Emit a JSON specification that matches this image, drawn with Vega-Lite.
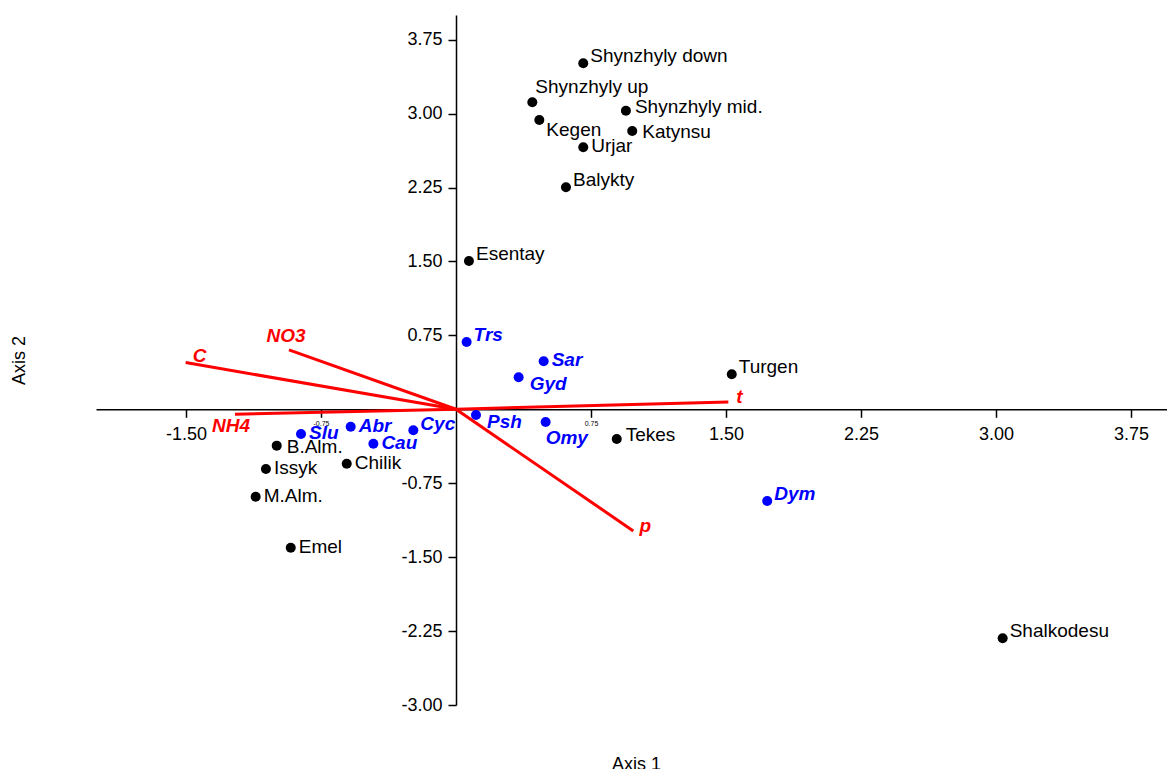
{
  "$schema": "https://vega.github.io/schema/vega-lite/v6.json",
  "width": 1071,
  "height": 690,
  "autosize": {"type": "none"},
  "padding": {"left": 96, "top": 15, "right": 0, "bottom": 64},
  "background": "white",
  "config": {
    "view": {"stroke": null},
    "font": "Liberation Sans",
    "axis": {
      "grid": false,
      "domainColor": "black",
      "domainWidth": 1.5,
      "tickColor": "black",
      "tickWidth": 1.5,
      "tickSize": 8,
      "labelFont": "Liberation Sans",
      "labelFontSize": 18,
      "labelColor": "black",
      "titleFont": "Liberation Sans",
      "titleFontSize": 18,
      "titleFontWeight": "normal",
      "titleColor": "black"
    }
  },
  "datasets": {
    "sites": [
      {"name": "Shynzhyly down", "x": 0.707, "y": 3.510},
      {"name": "Shynzhyly up", "x": 0.424, "y": 3.115},
      {"name": "Shynzhyly mid.", "x": 0.944, "y": 3.029},
      {"name": "Kegen", "x": 0.463, "y": 2.935},
      {"name": "Katynsu", "x": 0.979, "y": 2.823},
      {"name": "Urjar", "x": 0.707, "y": 2.658},
      {"name": "Balykty", "x": 0.611, "y": 2.252},
      {"name": "Esentay", "x": 0.072, "y": 1.504},
      {"name": "Turgen", "x": 1.532, "y": 0.355},
      {"name": "Tekes", "x": 0.893, "y": -0.301},
      {"name": "Shalkodesu", "x": 3.037, "y": -2.323},
      {"name": "B.Alm.", "x": -0.996, "y": -0.369},
      {"name": "Issyk", "x": -1.056, "y": -0.606},
      {"name": "Chilik", "x": -0.607, "y": -0.552},
      {"name": "M.Alm.", "x": -1.113, "y": -0.887},
      {"name": "Emel", "x": -0.918, "y": -1.404}
    ],
    "species": [
      {"name": "Trs", "x": 0.059, "y": 0.683},
      {"name": "Sar", "x": 0.487, "y": 0.487},
      {"name": "Gyd", "x": 0.348, "y": 0.325},
      {"name": "Psh", "x": 0.111, "y": -0.058},
      {"name": "Omy", "x": 0.498, "y": -0.129},
      {"name": "Slu", "x": -0.861, "y": -0.251},
      {"name": "Abr", "x": -0.585, "y": -0.177},
      {"name": "Cyc", "x": -0.237, "y": -0.213},
      {"name": "Cau", "x": -0.459, "y": -0.349},
      {"name": "Dym", "x": 1.729, "y": -0.930}
    ],
    "vectors": [
      {"name": "C", "x": -1.502, "y": 0.474},
      {"name": "NO3", "x": -0.928, "y": 0.603},
      {"name": "NH4", "x": -1.228, "y": -0.050},
      {"name": "t", "x": 1.513, "y": 0.075},
      {"name": "p", "x": 0.985, "y": -1.234}
    ]
  },
  "encoding": {
    "x": {
      "field": "x",
      "type": "quantitative",
      "scale": {"domain": [-2, 3.95], "nice": false, "zero": false},
      "axis": {
        "title": "Axis 1",
        "orient": "bottom",
        "offset": -295.71,
        "values": [-1.5, -0.75, 0.75, 1.5, 2.25, 3, 3.75],
        "format": ".2f",
        "labelExpr": "replace(datum.label, '\u2212', '-')",
        "labelFontSize": {"condition": {"test": "abs(datum.value) == 0.75", "value": 7}, "value": 18},
        "labelPadding": {"condition": {"test": "abs(datum.value) == 0.75", "value": 2}, "value": 8},
        "labelOverlap": false,
        "labelFlush": false,
        "titleX": 540,
        "titleY": 360,
        "titleBaseline": "alphabetic"
      }
    },
    "y": {
      "field": "y",
      "type": "quantitative",
      "scale": {"domain": [-3, 4], "nice": false, "zero": false},
      "axis": {
        "title": "Axis 2",
        "orient": "left",
        "offset": -360,
        "values": [-3, -2.25, -1.5, -0.75, 0.75, 1.5, 2.25, 3, 3.75],
        "format": ".2f",
        "labelExpr": "replace(datum.label, '\u2212', '-')",
        "labelPadding": 6,
        "labelOverlap": false,
        "labelFlush": false,
        "titleX": -437,
        "titleY": 345,
        "titleAngle": 270,
        "titleAlign": "center",
        "titleBaseline": "middle"
      }
    }
  },
  "layer": [
    {
      "data": {"name": "vectors"},
      "mark": {"type": "rule", "color": "#ff0000", "strokeWidth": 3},
      "encoding": {
        "x": {"datum": 0, "type": "quantitative"},
        "y": {"datum": 0, "type": "quantitative"},
        "x2": {"field": "x"},
        "y2": {"field": "y"}
      }
    },
    {
      "data": {"name": "sites"},
      "mark": {"type": "point", "filled": true, "color": "black", "opacity": 1, "size": 100}
    },
    {
      "data": {"name": "species"},
      "mark": {"type": "point", "filled": true, "color": "#0000ff", "opacity": 1, "size": 100}
    },
    {
      "data": {"name": "vectors"},
      "transform": [{"filter": {"field": "name", "equal": "C"}}],
      "mark": {"type": "text", "align": "center", "baseline": "middle", "dx": 14, "dy": -7, "fontSize": 19, "fontWeight": "bold", "fontStyle": "italic", "color": "#ff0000"},
      "encoding": {"text": {"field": "name"}}
    },
    {
      "data": {"name": "vectors"},
      "transform": [{"filter": {"field": "name", "equal": "NO3"}}],
      "mark": {"type": "text", "align": "center", "baseline": "middle", "dx": -3, "dy": -14, "fontSize": 19, "fontWeight": "bold", "fontStyle": "italic", "color": "#ff0000"},
      "encoding": {"text": {"field": "name"}}
    },
    {
      "data": {"name": "vectors"},
      "transform": [{"filter": {"field": "name", "equal": "NH4"}}],
      "mark": {"type": "text", "align": "center", "baseline": "middle", "dx": -4, "dy": 12, "fontSize": 19, "fontWeight": "bold", "fontStyle": "italic", "color": "#ff0000"},
      "encoding": {"text": {"field": "name"}}
    },
    {
      "data": {"name": "vectors"},
      "transform": [{"filter": {"field": "name", "equal": "t"}}],
      "mark": {"type": "text", "align": "center", "baseline": "middle", "dx": 11, "dy": -5, "fontSize": 19, "fontWeight": "bold", "fontStyle": "italic", "color": "#ff0000"},
      "encoding": {"text": {"field": "name"}}
    },
    {
      "data": {"name": "vectors"},
      "transform": [{"filter": {"field": "name", "equal": "p"}}],
      "mark": {"type": "text", "align": "center", "baseline": "middle", "dx": 12, "dy": -5, "fontSize": 19, "fontWeight": "bold", "fontStyle": "italic", "color": "#ff0000"},
      "encoding": {"text": {"field": "name"}}
    },
    {
      "data": {"name": "sites"},
      "transform": [{"filter": {"field": "name", "oneOf": ["Urjar", "Issyk", "Chilik", "M.Alm.", "Emel"]}}],
      "mark": {"type": "text", "align": "left", "baseline": "middle", "dx": 8, "dy": -1, "fontSize": 19, "color": "black"},
      "encoding": {"text": {"field": "name"}}
    },
    {
      "data": {"name": "sites"},
      "transform": [{"filter": {"field": "name", "oneOf": ["Katynsu", "B.Alm."]}}],
      "mark": {"type": "text", "align": "left", "baseline": "middle", "dx": 10, "dy": 1, "fontSize": 19, "color": "black"},
      "encoding": {"text": {"field": "name"}}
    },
    {
      "data": {"name": "sites"},
      "transform": [{"filter": {"field": "name", "oneOf": ["Shynzhyly mid.", "Tekes"]}}],
      "mark": {"type": "text", "align": "left", "baseline": "middle", "dx": 9, "dy": -4, "fontSize": 19, "color": "black"},
      "encoding": {"text": {"field": "name"}}
    },
    {
      "data": {"name": "sites"},
      "transform": [{"filter": {"field": "name", "oneOf": ["Shynzhyly down", "Balykty", "Esentay", "Turgen", "Shalkodesu"]}}],
      "mark": {"type": "text", "align": "left", "baseline": "middle", "dx": 7, "dy": -7.5, "fontSize": 19, "color": "black"},
      "encoding": {"text": {"field": "name"}}
    },
    {
      "data": {"name": "sites"},
      "transform": [{"filter": {"field": "name", "equal": "Kegen"}}],
      "mark": {"type": "text", "align": "left", "baseline": "middle", "dx": 7, "dy": 10, "fontSize": 19, "color": "black"},
      "encoding": {"text": {"field": "name"}}
    },
    {
      "data": {"name": "sites"},
      "transform": [{"filter": {"field": "name", "equal": "Shynzhyly up"}}],
      "mark": {"type": "text", "align": "left", "baseline": "middle", "dx": 3, "dy": -15, "fontSize": 19, "color": "black"},
      "encoding": {"text": {"field": "name"}}
    },
    {
      "data": {"name": "species"},
      "transform": [{"filter": {"field": "name", "oneOf": ["Sar", "Slu", "Cau", "Abr"]}}],
      "mark": {"type": "text", "align": "left", "baseline": "middle", "dx": 8, "dy": -1, "fontSize": 19, "fontWeight": "bold", "fontStyle": "italic", "color": "#0000ff"},
      "encoding": {"text": {"field": "name"}}
    },
    {
      "data": {"name": "species"},
      "transform": [{"filter": {"field": "name", "oneOf": ["Trs", "Dym", "Cyc"]}}],
      "mark": {"type": "text", "align": "left", "baseline": "middle", "dx": 7, "dy": -6.5, "fontSize": 19, "fontWeight": "bold", "fontStyle": "italic", "color": "#0000ff"},
      "encoding": {"text": {"field": "name"}}
    },
    {
      "data": {"name": "species"},
      "transform": [{"filter": {"field": "name", "oneOf": ["Gyd", "Psh"]}}],
      "mark": {"type": "text", "align": "left", "baseline": "middle", "dx": 11, "dy": 7, "fontSize": 19, "fontWeight": "bold", "fontStyle": "italic", "color": "#0000ff"},
      "encoding": {"text": {"field": "name"}}
    },
    {
      "data": {"name": "species"},
      "transform": [{"filter": {"field": "name", "equal": "Omy"}}],
      "mark": {"type": "text", "align": "left", "baseline": "middle", "dx": 0, "dy": 15.5, "fontSize": 19, "fontWeight": "bold", "fontStyle": "italic", "color": "#0000ff"},
      "encoding": {"text": {"field": "name"}}
    }
  ]
}
